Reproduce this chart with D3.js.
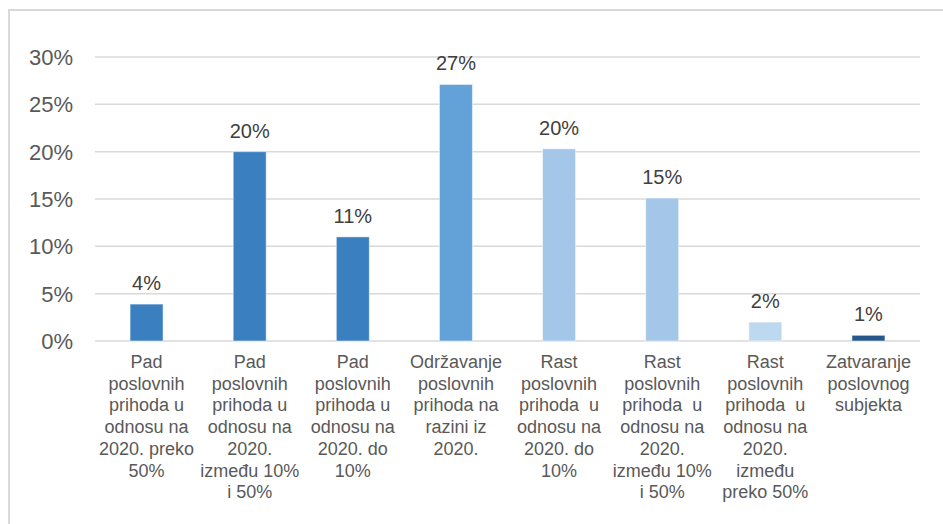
<!DOCTYPE html>
<html>
<head>
<meta charset="utf-8">
<script src="https://cdn.jsdelivr.net/npm/d3@7/dist/d3.min.js"></script>
<style>
  html, body { margin: 0; padding: 0; background: #fff; }
  svg { display: block; font-family: "Liberation Sans", Arial, sans-serif; }
</style>
</head>
<body>
<svg id="chart" width="943" height="524"></svg>
<script>
// ---- data ----
const categories = [
  ["Pad", "poslovnih", "prihoda u", "odnosu na", "2020. preko", "50%"],
  ["Pad", "poslovnih", "prihoda u", "odnosu na", "2020.", "između 10%", "i 50%"],
  ["Pad", "poslovnih", "prihoda u", "odnosu na", "2020. do", "10%"],
  ["Održavanje", "poslovnih", "prihoda na", "razini iz", "2020."],
  ["Rast", "poslovnih", "prihoda  u", "odnosu na", "2020. do", "10%"],
  ["Rast", "poslovnih", "prihoda  u", "odnosu na", "2020.", "između 10%", "i 50%"],
  ["Rast", "poslovnih", "prihoda  u", "odnosu na", "2020.", "između", "preko 50%"],
  ["Zatvaranje", "poslovnog", "subjekta"]
];
const values = [0.039, 0.200, 0.110, 0.271, 0.203, 0.151, 0.020, 0.006];
const valueLabels = ["4%", "20%", "11%", "27%", "20%", "15%", "2%", "1%"];
const colors = ["#3A80C1", "#3A80C1", "#3A80C1", "#62A2D8", "#A4C6E9", "#A4C6E9", "#BDD9EF", "#26578A"];
const yTicks = [0, 0.05, 0.10, 0.15, 0.20, 0.25, 0.30];
const yTickLabels = ["0%", "5%", "10%", "15%", "20%", "25%", "30%"];

// ---- layout ----
const svg = d3.select("#chart");
const plotLeft = 95, plotRight = 920, plotTop = 57, plotBottom = 341;

// frame
svg.append("path")
  .attr("d", `M9,524 L9,10 L943,10`)
  .attr("fill", "none").attr("stroke", "#D9D9D9").attr("stroke-width", 2);

const idx = d3.range(categories.length);
const x = d3.scaleBand().domain(idx).range([plotLeft, plotRight]).padding(0);
const y = d3.scaleLinear().domain([0, 0.30]).range([plotBottom, plotTop]);
const barW = x.bandwidth() * 0.32;

// gridlines
svg.append("g").selectAll("line").data(yTicks).join("line")
  .attr("x1", plotLeft).attr("x2", plotRight)
  .attr("y1", d => y(d)).attr("y2", d => y(d))
  .attr("stroke", "#D9D9D9").attr("stroke-width", 1.5);

// y tick labels
svg.append("g").selectAll("text").data(yTicks).join("text")
  .attr("x", 73).attr("y", d => y(d))
  .attr("dy", "0.36em")
  .attr("text-anchor", "end")
  .attr("fill", "#595959")
  .attr("font-size", 22)
  .text((d, i) => yTickLabels[i]);

// bars
svg.append("g").selectAll("rect").data(values).join("rect")
  .attr("x", (d, i) => x(i) + x.bandwidth() / 2 - barW / 2)
  .attr("y", d => y(d))
  .attr("width", barW)
  .attr("height", d => y(0) - y(d))
  .attr("fill", (d, i) => colors[i])
  .attr("stroke", "rgba(255,255,255,0.5)")
  .attr("stroke-width", 1);

// data labels
svg.append("g").selectAll("text").data(values).join("text")
  .attr("x", (d, i) => x(i) + x.bandwidth() / 2)
  .attr("y", d => y(d) - 14)
  .attr("text-anchor", "middle")
  .attr("fill", "#404040")
  .attr("font-size", 20)
  .text((d, i) => valueLabels[i]);

// category labels
const cg = svg.append("g").selectAll("text").data(categories).join("text")
  .attr("text-anchor", "middle")
  .attr("fill", "#595959")
  .attr("font-size", 18)
  .attr("xml:space", "preserve");
cg.each(function (lines, i) {
  const t = d3.select(this);
  lines.forEach((ln, j) => {
    t.append("tspan")
      .attr("x", x(i) + x.bandwidth() / 2)
      .attr("y", 368 + j * 21.7)
      .text(ln);
  });
});
</script>
</body>
</html>
